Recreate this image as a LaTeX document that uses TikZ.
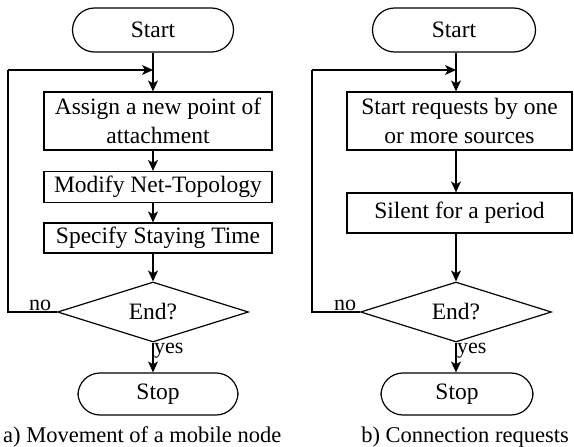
\documentclass[tikz,border=0pt]{standalone}
\usepackage{fontspec}
\setmainfont{Liberation Serif}
\usetikzlibrary{shapes.geometric,arrows.meta}
\begin{document}
\begin{tikzpicture}[x=1pt,y=-1pt,
  every node/.style={font=\fontsize{23.5}{29}\selectfont, inner sep=0pt},
  term/.style={draw, line width=1.2pt, rounded corners=22pt, minimum height=44pt},
  proc/.style={draw, line width=1.2pt, align=center},
  dec/.style={draw, line width=1.2pt, diamond, aspect=3.2, minimum width=191pt, minimum height=60pt},
  arr/.style={line width=1.2pt, -{Stealth[length=11pt,width=10pt,inset=3pt]}},
  ln/.style={line width=1.2pt},
  lbl/.style={font=\fontsize{22}{24}\selectfont},
  captext/.style={font=\fontsize{22.5}{26}\selectfont}]
\useasboundingbox (0,0) rectangle (574,447);
% left
\node[term, minimum width=161pt] (s1) at (153,30) {Start};
\node[proc, minimum width=228pt, minimum height=58pt] (a1) at (158,121) {Assign a new point of\\attachment};
\node[proc, minimum width=228pt, minimum height=31pt] (a2) at (158,187) {Modify Net-Topology};
\node[proc, minimum width=228pt, minimum height=30pt] (a3) at (158,238) {Specify Staying Time};
\node[dec] (d1) at (153,312) {End?};
\node[term, minimum width=160pt, minimum height=42pt] (t1) at (158,394) {Stop};
\coordinate (l1) at (8,70);
\coordinate (j1) at (153,70);
\draw[arr] (s1.south) -- (a1.north -| s1.south);
\draw[arr] (a1.south -| s1.south) -- (a2.north -| s1.south);
\draw[arr] (a2.south -| s1.south) -- (a3.north -| s1.south);
\draw[arr] (a3.south -| s1.south) -- (d1.north);
\draw[arr] (d1.south) -- (t1.north -| d1.south);
\draw[ln] (d1.west) -- (d1.west -| l1) -- (l1);
\draw[arr] (l1) -- (j1);
\node[lbl, anchor=south] (no1) at (40,311) {no};
\node[lbl, anchor=west] (y1) at (154,351) {yes};
\node[captext, anchor=west] (c1) at (3,437) {a) Movement of a mobile node};
% right
\node[term, minimum width=163pt] (s2) at (454,30) {Start};
\node[proc, minimum width=225pt, minimum height=58pt] (b1) at (459.5,121) {Start requests by one\\or more sources};
\node[proc, minimum width=225pt, minimum height=40pt] (b2) at (459.5,213) {Silent for a period};
\node[dec] (d2) at (456,312) {End?};
\node[term, minimum width=152pt, minimum height=42pt] (t2) at (457,394) {Stop};
\coordinate (l2) at (312,70);
\coordinate (j2) at (456,70);
\draw[arr] (s2.south -| j2) -- (b1.north -| j2);
\draw[arr] (b1.south -| j2) -- (b2.north -| j2);
\draw[arr] (b2.south -| j2) -- (d2.north);
\draw[arr] (d2.south) -- (t2.north -| d2.south);
\draw[ln] (d2.west) -- (d2.west -| l2) -- (l2);
\draw[arr] (l2) -- (j2);
\node[lbl, anchor=south] (no2) at (345,311) {no};
\node[lbl, anchor=west] (y2) at (457,351) {yes};
\node[captext, anchor=east] (c2) at (569,437) {b) Connection requests};
\end{tikzpicture}
\end{document}
